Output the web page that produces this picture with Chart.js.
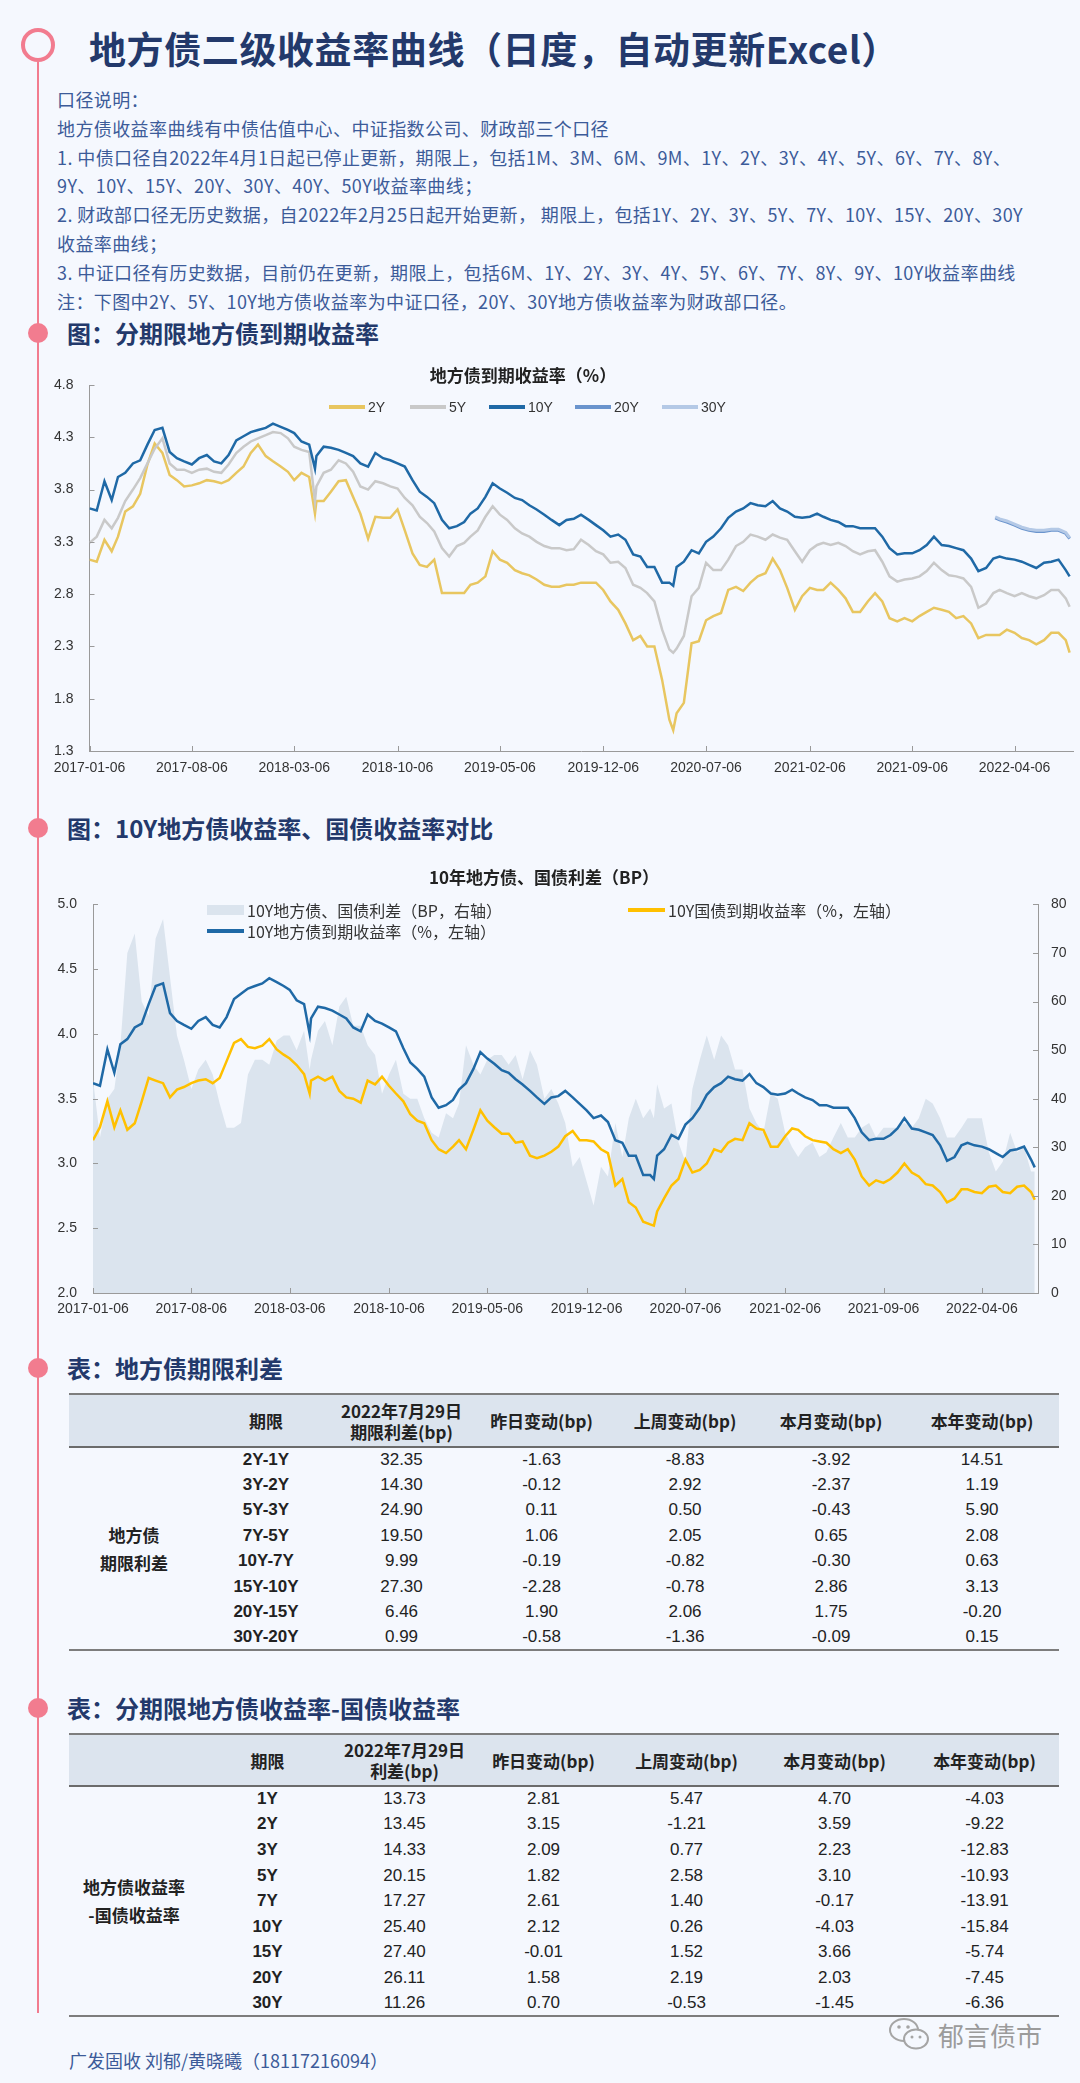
<!DOCTYPE html>
<html lang="zh-CN">
<head>
<meta charset="utf-8">
<title>地方债二级收益率曲线</title>
<script src="https://cdn.jsdelivr.net/npm/chart.js@4.4.0/dist/chart.umd.min.js"></script>
<style>
  html, body { margin:0; padding:0; }
  body { width:1080px; height:2083px; position:relative; background:#f5f8fe; overflow:hidden;
         font-family:"Noto Sans CJK SC","Noto Sans",sans-serif; color:#222; }
  .ring { position:absolute; left:21px; top:28px; width:34px; height:34px; box-sizing:border-box;
          border:4px solid #f27c8f; border-radius:50%; }
  .vline { position:absolute; left:37px; top:62px; width:2px; height:1951px; background:#f27c8f; }
  .dot { position:absolute; left:27.5px; width:20px; height:20px; border-radius:50%; background:#f27c8f; }
  .title { position:absolute; left:89px; top:22px; font-size:37px; letter-spacing:0.6px; font-weight:700; color:#23396b; line-height:52px; white-space:nowrap; }
  .desc { position:absolute; left:57px; top:85px; font-size:18px; line-height:28.8px; color:#3c5b99; white-space:nowrap; letter-spacing:0.4px; }
  .h2 { position:absolute; left:67px; font-size:24px; font-weight:700; color:#23396b; line-height:34px; white-space:nowrap; }
  .ctitle { position:absolute; transform:translateX(-50%); font-size:17px; font-weight:700; color:#222; line-height:24px; white-space:nowrap; z-index:3; }
  .lg-line { position:absolute; height:4px; z-index:3; }
  .lg-box { position:absolute; height:10px; z-index:3; }
  .lg-text { position:absolute; line-height:20px; color:#333; white-space:nowrap; z-index:3; }
  canvas { position:absolute; left:0; }
  table { position:absolute; left:69px; width:990px; border-collapse:collapse; table-layout:fixed; }
  th { background:#dce4ee; font-weight:700; font-size:17px; line-height:21px; padding:0; color:#222; text-align:center; }
  td { padding:0; text-align:center; font-family:"Liberation Sans",Arial,sans-serif; font-size:17px; color:#222; }
  td.per { font-weight:700; }
  td.side { font-family:"Noto Sans CJK SC",sans-serif; font-weight:700; font-size:17px; line-height:28px; }
  .foot { position:absolute; left:69px; top:2047px; font-size:18px; line-height:26px; color:#3c5b99; white-space:nowrap; }
  .wm { position:absolute; left:888px; top:2014px; height:40px; display:flex; align-items:center; color:#9b9b9b; font-size:26px; white-space:nowrap; }
</style>
</head>
<body>
<div class="ring"></div>
<div class="vline"></div>
<div class="title">地方债二级收益率曲线（日度，自动更新Excel）</div>
<div class="desc" id="desc"></div>

<div class="dot" style="top:323px"></div>
<div class="h2" style="top:316px">图：分期限地方债到期收益率</div>
<canvas id="c1" width="1080" height="420" style="top:360px"></canvas>
<div class="ctitle" style="left:523px;top:363px">地方债到期收益率（%）</div>
<div id="lg1"></div>

<div class="dot" style="top:818px"></div>
<div class="h2" style="top:811px">图：10Y地方债收益率、国债收益率对比</div>
<canvas id="c2" width="1080" height="440" style="top:880px"></canvas>
<div class="ctitle" style="left:544px;top:865px">10年地方债、国债利差（BP）</div>
<div id="lg2"></div>

<div class="dot" style="top:1358px"></div>
<div class="h2" style="top:1351px">表：地方债期限利差</div>
<table id="t1" style="top:1393px"></table>

<div class="dot" style="top:1698px"></div>
<div class="h2" style="top:1691px">表：分期限地方债收益率-国债收益率</div>
<table id="t2" style="top:1733px"></table>

<div class="wm">
  <svg width="44" height="38" viewBox="0 0 44 38" style="margin-right:6px">
    <ellipse cx="16" cy="15" rx="14" ry="11" fill="none" stroke="#a5a5a5" stroke-width="2"/>
    <ellipse cx="28" cy="24" rx="12" ry="9.5" fill="#f5f8fe" stroke="#a5a5a5" stroke-width="2"/>
    <circle cx="11" cy="12" r="1.8" fill="#a5a5a5"/><circle cx="20" cy="12" r="1.8" fill="#a5a5a5"/>
    <circle cx="24" cy="22" r="1.5" fill="#a5a5a5"/><circle cx="32" cy="22" r="1.5" fill="#a5a5a5"/>
  </svg>
  <span>郁言债市</span>
</div>
<div class="foot">广发固收 刘郁/黄晓曦（18117216094）</div>

<script>
// ---------------- text ----------------
const descLines = [
  '口径说明：',
  '地方债收益率曲线有中债估值中心、中证指数公司、财政部三个口径',
  '1. 中债口径自2022年4月1日起已停止更新，期限上，包括1M、3M、6M、9M、1Y、2Y、3Y、4Y、5Y、6Y、7Y、8Y、',
  '9Y、10Y、15Y、20Y、30Y、40Y、50Y收益率曲线；',
  '2. 财政部口径无历史数据，自2022年2月25日起开始更新， 期限上，包括1Y、2Y、3Y、5Y、7Y、10Y、15Y、20Y、30Y',
  '收益率曲线；',
  '3. 中证口径有历史数据，目前仍在更新，期限上，包括6M、1Y、2Y、3Y、4Y、5Y、6Y、7Y、8Y、9Y、10Y收益率曲线',
  '注：下图中2Y、5Y、10Y地方债收益率为中证口径，20Y、30Y地方债收益率为财政部口径。'
];

// ---------------- chart data ----------------
const dates = [
  '2017-01-06','2017-01-21','2017-02-06','2017-02-21','2017-03-06','2017-03-21','2017-04-06','2017-04-21','2017-05-06','2017-05-21','2017-06-06','2017-06-21',
  '2017-07-06','2017-07-21','2017-08-06','2017-08-21','2017-09-06','2017-09-21','2017-10-06','2017-10-21','2017-11-06','2017-11-21','2017-12-06','2017-12-21',
  '2018-01-06','2018-01-21','2018-02-06','2018-02-21','2018-03-06','2018-03-21','2018-04-06','2018-04-18','2018-04-21','2018-05-06','2018-05-21','2018-06-06','2018-06-21',
  '2018-07-06','2018-07-21','2018-08-06','2018-08-21','2018-09-06','2018-09-21','2018-10-06','2018-10-21','2018-11-06','2018-11-21','2018-12-06','2018-12-21',
  '2019-01-06','2019-01-21','2019-02-06','2019-02-21','2019-03-06','2019-03-21','2019-04-06','2019-04-21','2019-05-06','2019-05-21','2019-06-06','2019-06-21',
  '2019-07-06','2019-07-21','2019-08-06','2019-08-21','2019-09-06','2019-09-21','2019-10-06','2019-10-21','2019-11-06','2019-11-21','2019-12-06','2019-12-21',
  '2020-01-06','2020-01-21','2020-02-06','2020-02-21','2020-03-06','2020-03-21','2020-04-06','2020-04-21','2020-04-29','2020-05-06','2020-05-21','2020-06-06','2020-06-21',
  '2020-07-06','2020-07-21','2020-08-06','2020-08-21','2020-09-06','2020-09-21','2020-10-06','2020-10-21','2020-11-06','2020-11-21','2020-12-06','2020-12-21',
  '2021-01-06','2021-01-21','2021-02-06','2021-02-21','2021-03-06','2021-03-21','2021-04-06','2021-04-21','2021-05-06','2021-05-21','2021-06-06','2021-06-21',
  '2021-07-06','2021-07-21','2021-08-06','2021-08-21','2021-09-06','2021-09-21','2021-10-06','2021-10-21','2021-11-06','2021-11-21','2021-12-06','2021-12-21',
  '2022-01-06','2022-01-21','2022-02-06','2022-02-21','2022-03-06','2022-03-21','2022-04-06','2022-04-21','2022-05-06','2022-05-21','2022-06-06','2022-06-21',
  '2022-07-06','2022-07-21','2022-07-29'
];
const y2 = [
  3.13,3.11,3.32,3.21,3.35,3.59,3.64,3.76,4.04,4.24,4.15,3.94,3.89,3.83,3.84,3.86,3.89,3.88,3.86,3.89,3.96,4.02,4.15,4.23,
  4.12,4.07,4.02,3.97,3.89,3.96,3.92,3.57,3.69,3.69,3.78,3.88,3.89,3.73,3.57,3.33,3.54,3.53,3.53,3.61,3.41,3.19,3.08,3.06,3.13,
  2.81,2.81,2.81,2.81,2.89,2.91,2.97,3.21,3.13,3.10,3.03,3.00,2.98,2.94,2.89,2.87,2.87,2.89,2.89,2.91,2.91,2.91,2.84,2.73,
  2.65,2.52,2.36,2.40,2.30,2.30,1.98,1.60,1.50,1.66,1.76,2.33,2.35,2.55,2.59,2.62,2.84,2.87,2.83,2.91,2.97,3.00,3.14,3.03,2.86,
  2.65,2.78,2.86,2.84,2.84,2.91,2.84,2.76,2.63,2.63,2.73,2.81,2.73,2.57,2.54,2.57,2.54,2.59,2.63,2.67,2.65,2.63,2.57,2.59,
  2.52,2.38,2.41,2.41,2.41,2.46,2.43,2.38,2.36,2.32,2.36,2.43,2.43,2.36,2.24
];
const y5 = [
  3.29,3.35,3.51,3.43,3.53,3.69,3.80,3.91,4.05,4.19,4.29,4.05,3.99,3.99,3.96,3.99,4.00,3.97,3.96,4.04,4.15,4.21,4.26,4.29,
  4.32,4.35,4.34,4.29,4.21,4.18,4.16,3.69,3.83,3.96,3.99,4.08,4.05,3.97,3.83,3.80,3.88,3.86,3.83,3.81,3.72,3.65,3.54,3.48,3.40,
  3.24,3.16,3.26,3.29,3.35,3.41,3.54,3.64,3.56,3.51,3.43,3.38,3.35,3.30,3.26,3.24,3.24,3.22,3.23,3.32,3.27,3.21,3.18,3.10,
  3.11,3.05,2.89,2.86,2.81,2.73,2.46,2.27,2.24,2.28,2.40,2.78,2.86,3.10,3.03,3.03,3.13,3.26,3.30,3.37,3.35,3.32,3.37,3.34,3.32,
  3.21,3.11,3.22,3.27,3.29,3.27,3.29,3.26,3.21,3.18,3.21,3.22,3.11,2.97,2.92,2.94,2.95,2.97,3.02,3.10,3.03,2.98,2.97,2.95,
  2.87,2.67,2.71,2.81,2.84,2.81,2.78,2.81,2.78,2.76,2.79,2.84,2.84,2.76,2.68
];
const y10 = [
  3.62,3.60,3.88,3.70,3.92,3.96,4.05,4.08,4.23,4.37,4.39,4.16,4.10,4.07,4.04,4.10,4.13,4.07,4.05,4.13,4.27,4.31,4.35,4.37,
  4.39,4.43,4.40,4.37,4.34,4.26,4.23,4.00,4.12,4.21,4.20,4.18,4.15,4.12,4.05,4.02,4.15,4.10,4.08,4.05,4.02,3.89,3.78,3.73,3.67,
  3.51,3.43,3.45,3.49,3.57,3.62,3.73,3.86,3.81,3.77,3.72,3.70,3.65,3.61,3.56,3.51,3.46,3.51,3.52,3.56,3.51,3.46,3.41,3.35,
  3.37,3.32,3.18,3.16,3.06,3.06,2.91,2.91,2.88,3.06,3.11,3.22,3.19,3.30,3.35,3.43,3.53,3.59,3.62,3.67,3.65,3.64,3.69,3.62,3.59,
  3.54,3.53,3.54,3.57,3.54,3.51,3.49,3.45,3.45,3.43,3.43,3.43,3.35,3.24,3.18,3.19,3.19,3.22,3.27,3.35,3.27,3.26,3.24,3.22,
  3.14,3.02,3.05,3.14,3.16,3.14,3.13,3.11,3.08,3.05,3.10,3.11,3.13,3.03,2.97
];
const cgb10 = [
  3.18,3.28,3.48,3.28,3.41,3.26,3.31,3.48,3.66,3.64,3.62,3.51,3.57,3.59,3.62,3.64,3.65,3.62,3.66,3.79,3.93,3.96,3.90,3.89,
  3.91,3.96,3.88,3.84,3.81,3.76,3.69,3.54,3.64,3.67,3.64,3.67,3.56,3.51,3.50,3.47,3.64,3.61,3.67,3.60,3.54,3.48,3.38,3.33,3.31,
  3.18,3.11,3.08,3.13,3.18,3.11,3.26,3.41,3.33,3.28,3.23,3.23,3.16,3.17,3.06,3.04,3.06,3.09,3.13,3.21,3.25,3.18,3.18,3.17,
  3.11,3.08,2.83,2.88,2.70,2.66,2.55,2.53,2.52,2.63,2.73,2.83,2.88,3.03,2.93,2.95,3.00,3.11,3.09,3.16,3.19,3.18,3.31,3.27,3.26,
  3.13,3.13,3.21,3.27,3.26,3.21,3.18,3.17,3.16,3.11,3.08,3.11,3.03,2.90,2.83,2.87,2.85,2.88,2.93,3.00,2.93,2.90,2.84,2.83,
  2.78,2.70,2.73,2.80,2.80,2.78,2.77,2.82,2.83,2.78,2.77,2.82,2.83,2.78,2.72
];
const spreadBp = [
  44,32,40,42,51,70,74,60,57,73,77,65,53,48,42,46,48,45,39,34,34,35,45,48,
  48,47,52,53,53,50,54,46,48,54,56,51,59,61,55,55,51,49,41,45,48,41,40,40,36,
  33,32,37,36,39,51,47,45,48,49,49,47,49,44,50,47,40,42,39,35,26,28,23,18,
  26,24,35,28,36,40,36,38,36,43,38,39,31,27,42,48,53,48,53,51,46,46,38,35,33,
  41,40,33,30,28,30,31,28,29,32,35,32,32,34,35,32,34,34,34,35,34,36,40,39,
  36,32,32,34,36,36,36,29,25,27,33,29,30,25,25
];
const dates20 = ['2022-02-25','2022-03-06','2022-03-21','2022-04-06','2022-04-21','2022-05-06','2022-05-21','2022-06-06','2022-06-21','2022-07-06','2022-07-21','2022-07-29'];
const y20 = [3.53,3.51,3.49,3.46,3.43,3.41,3.40,3.40,3.41,3.41,3.38,3.33];
const y30 = [3.54,3.52,3.50,3.47,3.44,3.42,3.41,3.41,3.42,3.42,3.39,3.34];

const xTickLabels = ['2017-01-06','2017-08-06','2018-03-06','2018-10-06','2019-05-06','2019-12-06','2020-07-06','2021-02-06','2021-09-06','2022-04-06'];
const yTicks1 = [1.3,1.8,2.3,2.8,3.3,3.8,4.3,4.8];
const seriesNames1 = ['2Y','5Y','10Y','20Y','30Y'];
const seriesNames2 = ['10Y地方债、国债利差（BP，右轴）','10Y国债到期收益率（%，左轴）','10Y地方债到期收益率（%，左轴）'];

// ---------------- table data ----------------
const t1Periods = ['2Y-1Y','3Y-2Y','5Y-3Y','7Y-5Y','10Y-7Y','15Y-10Y','20Y-15Y','30Y-20Y'];
const t1Level = [32.35,14.30,24.90,19.50,9.99,27.30,6.46,0.99];
const t1Day   = [-1.63,-0.12,0.11,1.06,-0.19,-2.28,1.90,-0.58];
const t1Week  = [-8.83,2.92,0.50,2.05,-0.82,-0.78,2.06,-1.36];
const t1Month = [-3.92,-2.37,-0.43,0.65,-0.30,2.86,1.75,-0.09];
const t1Year  = [14.51,1.19,5.90,2.08,0.63,3.13,-0.20,0.15];

const t2Periods = ['1Y','2Y','3Y','5Y','7Y','10Y','15Y','20Y','30Y'];
const t2Level = [13.73,13.45,14.33,20.15,17.27,25.40,27.40,26.11,11.26];
const t2Day   = [2.81,3.15,2.09,1.82,2.61,2.12,-0.01,1.58,0.70];
const t2Week  = [5.47,-1.21,0.77,2.58,1.40,0.26,1.52,2.19,-0.53];
const t2Month = [4.70,3.59,2.23,3.10,-0.17,-4.03,3.66,2.03,-1.45];
const t2Year  = [-4.03,-9.22,-12.83,-10.93,-13.91,-15.84,-5.74,-7.45,-6.36];

// ---------------- helpers ----------------
const BASE = Date.UTC(2017, 0, 6);
function dayNum(s) { const p = s.split('-').map(Number); return (Date.UTC(p[0], p[1]-1, p[2]) - BASE) / 86400000; }
function toXY(ds, vs) { return ds.map((d, i) => ({ x: dayNum(d), y: vs[i] })); }
const endDay = dayNum(dates[dates.length - 1]);

document.getElementById('desc').innerHTML = descLines.map(l => '<div>' + l + '</div>').join('');

// legends
const col = { y2:'#e8c660', y5:'#c9c9c9', y10:'#1f69a6', y20:'#6a94cd', y30:'#b4c9e6', cgb:'#ffc000', spread:'#dbe4ee' };
(function () {
  const colors1 = [col.y2, col.y5, col.y10, col.y20, col.y30];
  const lineX = [329, 410, 489, 575, 662];
  let h = '';
  seriesNames1.forEach((n, i) => {
    h += '<div class="lg-line" style="left:' + lineX[i] + 'px;top:405px;width:36px;background:' + colors1[i] + '"></div>';
    h += '<div class="lg-text" style="left:' + (lineX[i] + 39) + 'px;top:397px;font-family:\'Liberation Sans\',Arial,sans-serif;font-size:14px">' + n + '</div>';
  });
  document.getElementById('lg1').innerHTML = h;
  let g = '';
  g += '<div class="lg-box" style="left:207px;top:905px;width:37px;background:' + col.spread + '"></div>';
  g += '<div class="lg-text" style="left:247px;top:900px;font-size:16px">' + seriesNames2[0] + '</div>';
  g += '<div class="lg-line" style="left:628px;top:908px;width:37px;background:' + col.cgb + '"></div>';
  g += '<div class="lg-text" style="left:668px;top:900px;font-size:16px">' + seriesNames2[1] + '</div>';
  g += '<div class="lg-line" style="left:207px;top:929px;width:37px;background:' + col.y10 + '"></div>';
  g += '<div class="lg-text" style="left:247px;top:921px;font-size:16px">' + seriesNames2[2] + '</div>';
  document.getElementById('lg2').innerHTML = g;
})();

// tables
function buildTable(id, head, side, periods, cols, widths, headH, rowH) {
  let h = '<colgroup>' + widths.map(w => '<col style="width:' + w + 'px">').join('') + '</colgroup>';
  h += '<thead><tr style="height:' + headH + 'px;border-top:2px solid #7d7d7d;border-bottom:2px solid #6b6b6b">' +
       head.map(t => '<th>' + t + '</th>').join('') + '</tr></thead><tbody>';
  periods.forEach((p, i) => {
    h += '<tr style="height:' + rowH + 'px">';
    if (i === 0) h += '<td class="side" rowspan="' + periods.length + '">' + side + '</td>';
    h += '<td class="per">' + p + '</td>';
    cols.forEach(c => { h += '<td>' + c[i].toFixed(2) + '</td>'; });
    h += '</tr>';
  });
  h += '</tbody>';
  const t = document.getElementById(id);
  t.innerHTML = h;
  t.style.borderBottom = '2px solid #7d7d7d';
}
buildTable('t1', ['', '期限', '2022年7月29日<br>期限利差(bp)', '昨日变动(bp)', '上周变动(bp)', '本月变动(bp)', '本年变动(bp)'],
  '地方债<br>期限利差', t1Periods, [t1Level, t1Day, t1Week, t1Month, t1Year],
  [130, 134, 137, 143, 144, 148, 154], 53, 25.4);
buildTable('t2', ['', '期限', '2022年7月29日<br>利差(bp)', '昨日变动(bp)', '上周变动(bp)', '本月变动(bp)', '本年变动(bp)'],
  '地方债收益率<br>-国债收益率', t2Periods, [t2Level, t2Day, t2Week, t2Month, t2Year],
  [130, 137, 137, 141, 145, 151, 149], 52, 25.6);

// ---------------- charts ----------------
Chart.defaults.font.family = '"Liberation Sans", Arial, sans-serif';
Chart.defaults.font.size = 14;
Chart.defaults.color = '#333';

const inwardTicks = {
  id: 'inwardTicks',
  afterDraw(chart) {
    const ctx = chart.ctx, a = chart.chartArea;
    ctx.save();
    ctx.strokeStyle = '#9a9a9a';
    ctx.lineWidth = 1;
    Object.values(chart.scales).forEach(s => {
      s.ticks.forEach(t => {
        const p = Math.round(s.getPixelForValue(t.value)) + 0.5;
        ctx.beginPath();
        if (s.isHorizontal()) { ctx.moveTo(p, a.bottom); ctx.lineTo(p, a.bottom - 5); }
        else if (s.position === 'left') { ctx.moveTo(a.left, p); ctx.lineTo(a.left + 5, p); }
        else { ctx.moveTo(a.right, p); ctx.lineTo(a.right - 5, p); }
        ctx.stroke();
      });
    });
    ctx.restore();
  }
};

const noGrid = { display: false, drawTicks: false, tickLength: 0 };

function xScale(h, pad) {
  return {
    type: 'linear', min: 0, max: endDay + 7,
    grid: noGrid, border: { display: true, color: '#9a9a9a' },
    ticks: { autoSkip: false, maxRotation: 0, padding: pad, color: '#333', callback: (v, i) => xTickLabels[i] },
    afterBuildTicks: s => { s.ticks = xTickLabels.map(d => ({ value: dayNum(d) })); },
    afterFit: s => { s.height = h; }
  };
}
const lineDefaults = { pointRadius: 0, tension: 0, fill: false };

new Chart(document.getElementById('c1'), {
  type: 'line',
  data: {
    datasets: [
      Object.assign({ label: '30Y', data: toXY(dates20, y30), borderColor: col.y30, borderWidth: 3 }, lineDefaults),
      Object.assign({ label: '20Y', data: toXY(dates20, y20), borderColor: col.y20, borderWidth: 3 }, lineDefaults),
      Object.assign({ label: '10Y', data: toXY(dates, y10), borderColor: col.y10, borderWidth: 2.5 }, lineDefaults),
      Object.assign({ label: '5Y', data: toXY(dates, y5), borderColor: col.y5, borderWidth: 2.5 }, lineDefaults),
      Object.assign({ label: '2Y', data: toXY(dates, y2), borderColor: col.y2, borderWidth: 2.5 }, lineDefaults)
    ]
  },
  options: {
    responsive: false, animation: false, devicePixelRatio: 1,
    layout: { padding: { left: 0, right: 7, top: 25, bottom: 0 } },
    plugins: { legend: { display: false }, tooltip: { enabled: false } },
    scales: {
      x: xScale(29, 9),
      y: {
        min: 1.3, max: 4.8,
        grid: noGrid, border: { display: true, color: '#9a9a9a' },
        ticks: { padding: 16, color: '#333', callback: v => Number(v).toFixed(1) },
        afterBuildTicks: s => { s.ticks = yTicks1.map(v => ({ value: v })); },
        afterFit: s => { s.width = 89.5; }
      }
    }
  },
  plugins: [inwardTicks]
});

new Chart(document.getElementById('c2'), {
  type: 'line',
  data: {
    datasets: [
      Object.assign({ label: seriesNames2[2], data: toXY(dates, y10), borderColor: col.y10, borderWidth: 2.5, yAxisID: 'y' }, lineDefaults),
      Object.assign({ label: seriesNames2[1], data: toXY(dates, cgb10), borderColor: col.cgb, borderWidth: 2.5, yAxisID: 'y' }, lineDefaults),
      { label: seriesNames2[0], data: toXY(dates, spreadBp), borderWidth: 0, borderColor: 'rgba(0,0,0,0)',
        backgroundColor: col.spread, fill: 'origin', pointRadius: 0, tension: 0, yAxisID: 'y1' }
    ]
  },
  options: {
    responsive: false, animation: false, devicePixelRatio: 1,
    layout: { padding: { left: 0, right: 0, top: 17, bottom: 0 } },
    plugins: { legend: { display: false }, tooltip: { enabled: false } },
    scales: {
      x: xScale(27, 8),
      y: {
        position: 'left', min: 2.0, max: 5.0,
        grid: noGrid, border: { display: true, color: '#9a9a9a' },
        ticks: { stepSize: 0.5, padding: 16, color: '#333', callback: v => Number(v).toFixed(1) },
        afterFit: s => { s.width = 93; }
      },
      y1: {
        position: 'right', min: 0, max: 80,
        grid: noGrid, border: { display: true, color: '#9a9a9a' },
        ticks: { stepSize: 10, padding: 13, color: '#333' },
        afterFit: s => { s.width = 42; }
      }
    }
  },
  plugins: [inwardTicks]
});
</script>
</body>
</html>
